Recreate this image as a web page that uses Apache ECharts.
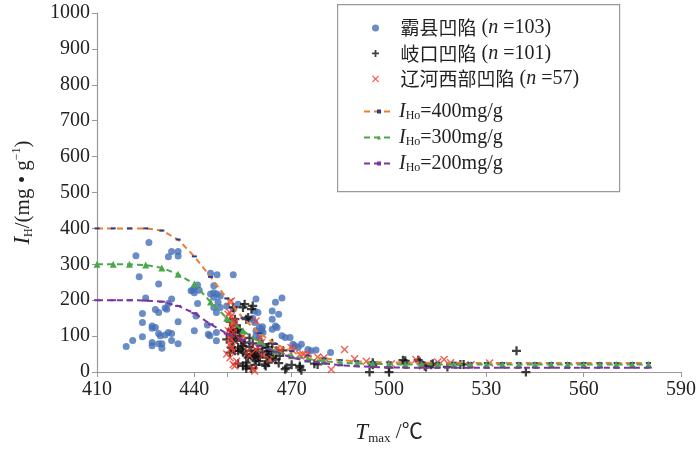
<!DOCTYPE html>
<html>
<head>
<meta charset="utf-8">
<script src="https://cdn.jsdelivr.net/npm/echarts@6/dist/echarts.min.js"></script>
<style>
html,body{margin:0;padding:0;background:#fff;}
#main{width:700px;height:450px;}
</style>
</head>
<body>
<div id="main"></div>
<script>
// 数据
var xTicks = [410, 440, 470, 500, 530, 560, 590];
var curveX = [410,415,420,425,430,435,440,445,450,455,460,465,470,475,480,485,490,495,500,
              505,510,515,520,525,530,535,540,545,550,555,560,565,570,575,580];
var curve400 = [400,400,400,400,394,369,322,265,205,150,108,78,58,46,38,33,30,28,27,
                26,26,26,26,25,25,25,25,25,25,25,25,25,25,25,25];
var curve300 = [300,300,300,298,290,272,245,195,150,115,83,58,45,36,30,26,24,23,22,
                21,21,21,21,21,21,21,21,21,21,21,21,21,21,21,21];
var curve200 = [200,200,200,199,196,184,164,133,107,89,73,56,40,30,24,19,16,14,13,
                12,12,12,12,12,12,12,12,12,12,12,12,12,12,12,12];

// 霸县凹陷
var baxian = [
  [426,361],[422,324],[433,336],[435,336],[432,321],[435,323],[423,265],[429,245],[425,206],[433,203],
  [432,191],[428,174],[429,166],[431,178],[431.5,175],[424,163],[424,138],[435,140],[427,128],[428,124],
  [427,122],[424,98],[429,107],[429.5,101],[431,103],[432,110],[433,107],[421,88],[419,71],[427,82],
  [427,73],[429,79],[430,79],[430,66],[433,88],[435,79],
  [439,226],[440,234],[440.5,156],[440,115],
  [445,275],[447,271],[452,271],
  [441,242],[439.5,228],[440,221],[441.5,228],
  [446,240],[446,221],[445,217],[447,217],[448,212],[446,208],
  [441,191],[450,184],[453.5,189],[446.8,110],[446.8,87],[444,131],[444.3,105],[444.8,101],
  [447.3,194],[448,180],[446,180],[446.8,166],[452,175],
  [459,203],[467,206],[465,194],[464,170],[466,161],[464,147],[465,128],[465.5,124],[464,119],
  [467,101],[468,96],[469.5,96],
  [457,147],[458,150],[458.6,138],[458.6,170],[459.6,166],
  [460,124],[460.7,119],[461,126],[459,115],[460.7,115],[461.2,110],[459,101],[460,94],
  [471,73],[472,68],[470.4,77],[473,77],[475,63],[476,59],[477.5,61],[482,54],[463,58]
];
// 岐口凹陷
var qikou = [
  [455.5,189],[458,184],[457.6,175],[456,147],[456.6,152],[453.5,119],[454,115],[452.5,110],[451.4,115],[451,105],
  [452,96],[453,91],[454.5,87],[455.5,82],[455,73],[451,54],[452.5,59],[453.5,59],[454.5,63],[456,49],
  [456.6,40],[457.6,59],[458,49],[458.6,45],[459,54],[459.6,40],[460.2,42],[458.6,35],[456,17],[457.6,10],
  [453.5,23],[461,77],[462.3,68],[462.8,59],[463.8,59],[462.3,40],[462.8,26],[461.7,21],[468.4,12],[472.5,12],
  [467.3,60],[465.3,59],[450,91],
  [452,180],[455,180],[452.5,147],[451.4,119],[452,101],[451.4,68],[453.5,68],[456,26],[455,17],[458,40],
  [459.6,63],[462.8,68],[464.2,40],[466.3,45],
  [472.5,17],[477,23],[478,21],[495,26],[494,0],[500,12],[500,0],[504.3,33],[505,31],[509,33],
  [509.5,28],[511,17],[511.4,14],[513.5,23],[518,14],[522,21],[523,21],[539.3,59],[542.2,0],
  [456,10],[459,20],[462,17],[468,8],[473,5],[495,20],[505,25],[513,20],
  [451,140],[453,130],[454,100],[457,95],[458,80],[460,30],[463,48],[465,35],[466,25],[470,20],
  [452,85],[455,55],[457,70],[461,55],[464,80]
];
// 辽河西部凹陷
var liaohe = [
  [450.9,196],[451.4,198],[450.9,166],[451.4,156],[452,142],[452.5,138],[451.4,131],[452,124],[459,142],[451,96],
  [451.4,91],[451,77],[451.4,68],[452,59],[454,91],[451,40],[452,21],[458,10],[456.6,59],[460.2,96],
  [460.7,82],[459.6,68],[459,63],[463.2,35],[465.3,63],[466.3,59],[469.8,68],[470.4,59],[472.5,49],[475,49],
  [473.5,49],[474.5,45],[478,42],[486.3,63],[489.4,37],[482.2,7],[500.7,23],[508.3,35],[510.4,17],[515,28],
  [519,26],[525.3,20],[531,25],[452.5,17],[458.6,3],[450.4,161],[452,110],[450.5,115],[453,30],[466.8,59],
  [457,45],[455,100],[450,50],[461,45],[480,40],[517,35],[493,30]
];

var plusPath = 'path://M3,0H5V3H8V5H5V8H3V5H0V3H3Z';
var crossPath = 'path://M0,1L1,0L4,3L7,0L8,1L5,4L8,7L7,8L4,5L1,8L0,7L3,4Z';
var numFont = '"Liberation Serif", "Noto Sans CJK SC", serif';
var cjkFont = '"Noto Sans CJK SC", "Liberation Serif", serif';

var pair = function(xs, ys){
    return xs.map(function(x, i){ return [x, ys[i]]; });
};

var legendRich = {
    c: {fontFamily: cjkFont, fontSize: 19, color: '#222', lineHeight: 21, padding: [0, 0, 0, 14]},
    t: {fontFamily: numFont, fontSize: 20, color: '#222', lineHeight: 21},
    i: {fontFamily: numFont, fontSize: 20, fontStyle: 'italic', color: '#222', lineHeight: 21},
    s: {fontFamily: numFont, fontSize: 12, color: '#222', verticalAlign: 'bottom', lineHeight: 21, padding: [11, 0, 0, 0]}
};

var legendText = {
    '霸县凹陷': '{c|霸县凹陷}{t| (}{i|n}{t| =103)}',
    '岐口凹陷': '{c|岐口凹陷}{t| (}{i|n}{t| =101)}',
    '辽河西部凹陷': '{c|辽河西部凹陷}{t| (}{i|n}{t| =57)}',
    'I400': '{i|I}{s|Ho}{t|=400mg/g}',
    'I300': '{i|I}{s|Ho}{t|=300mg/g}',
    'I200': '{i|I}{s|Ho}{t|=200mg/g}'
};

var lineSeries = function(name, data, color, symbol, symbolSize, symbolColor){
    return {
        name: name,
        type: 'line',
        data: data,
        symbol: symbol,
        symbolSize: symbolSize,
        showAllSymbol: true,
        z: 5,
        lineStyle: {color: color, width: 2, type: [6, 4]},
        itemStyle: {color: symbolColor},
        emphasis: {disabled: true}
    };
};

var option = {
    animation: false,
    grid: {left: 97, right: 19, top: 13, bottom: 78},
    graphic: [{
        type: 'rect',
        left: 337, top: 4,
        shape: {width: 282, height: 187},
        style: {fill: '#fff', stroke: '#999', lineWidth: 1.2},
        z: 0
    }],
    legend: [{
        orient: 'vertical',
        left: 372, top: 18, padding: 0,
        itemWidth: 12, itemHeight: 7, itemGap: 5.5,
        data: ['霸县凹陷', '岐口凹陷', '辽河西部凹陷'],
        formatter: function(n){ return legendText[n]; },
        textStyle: {rich: legendRich}
    }, {
        orient: 'vertical',
        left: 363, top: 99, padding: 0,
        itemWidth: 30, itemHeight: 5, itemGap: 3,
        data: ['I400', 'I300', 'I200'],
        formatter: function(n){ return legendText[n]; },
        textStyle: {rich: {
            t: legendRich.t, i: legendRich.i, s: legendRich.s
        }}
    }],
    xAxis: {
        type: 'value',
        min: 410, max: 590,
        name: '{i|T}{s|max}{t| /℃}',
        nameLocation: 'middle',
        nameGap: 48,
        nameTextStyle: {rich: {
            i: {fontFamily: numFont, fontSize: 23, fontStyle: 'italic', color: '#222'},
            s: {fontFamily: numFont, fontSize: 13, color: '#222', verticalAlign: 'bottom', padding: [12, 0, 0, 0]},
            t: {fontFamily: numFont, fontSize: 21, color: '#222'}
        }},
        splitLine: {show: false},
        axisLine: {lineStyle: {color: '#999', width: 1.2}},
        axisTick: {show: true, length: 5, lineStyle: {color: '#999'},
                   customValues: [410, 440, 450, 470, 500, 530, 560, 590]},
        axisLabel: {customValues: xTicks, color: '#222', fontSize: 20, fontFamily: numFont, margin: 8}
    },
    yAxis: {
        type: 'value',
        min: 0, max: 1000, interval: 100,
        name: '{i|I}{s|H}{t|/(mg • g}{sup|−1}{t|)}',
        nameLocation: 'middle',
        nameRotate: 90,
        nameGap: 62,
        nameTextStyle: {rich: {
            i: {fontFamily: numFont, fontSize: 23, fontStyle: 'italic', color: '#222'},
            s: {fontFamily: numFont, fontSize: 12, color: '#222', verticalAlign: 'bottom', padding: [12, 0, 0, 0]},
            t: {fontFamily: numFont, fontSize: 21, color: '#222'},
            sup: {fontFamily: numFont, fontSize: 12, color: '#222', verticalAlign: 'top', padding: [0, 0, 10, 0]}
        }},
        splitLine: {show: false},
        axisLine: {show: true, lineStyle: {color: '#999', width: 1.2}},
        axisTick: {show: true, length: 5, lineStyle: {color: '#999'}},
        axisLabel: {color: '#222', fontSize: 20, fontFamily: numFont, margin: 7,
                    formatter: function(v){ return String(v); }}
    },
    series: [
        {
            name: '霸县凹陷', type: 'scatter', data: baxian,
            symbol: 'circle', symbolSize: 7, z: 2,
            itemStyle: {color: '#4670b8'}
        },
        {
            name: '岐口凹陷', type: 'scatter', data: qikou,
            symbol: plusPath, symbolSize: 9, symbolKeepAspect: true, z: 3,
            itemStyle: {color: '#111'}
        },
        {
            name: '辽河西部凹陷', type: 'scatter', data: liaohe,
            symbol: crossPath, symbolSize: 8, symbolKeepAspect: true, z: 4,
            itemStyle: {color: '#f03a2e'}
        },
        lineSeries('I400', pair(curveX, curve400), '#ee7d31', 'rect', [5, 2], '#2c3d8f'),
        lineSeries('I300', pair(curveX, curve300), '#4aa84a', 'triangle', 7, '#4aa84a'),
        lineSeries('I200', pair(curveX, curve200), '#7b35a0', 'rect', [6, 2], '#7b35a0')
    ]
};

var chart = echarts.init(document.getElementById('main'));
chart.setOption(option);
</script>
</body>
</html>
